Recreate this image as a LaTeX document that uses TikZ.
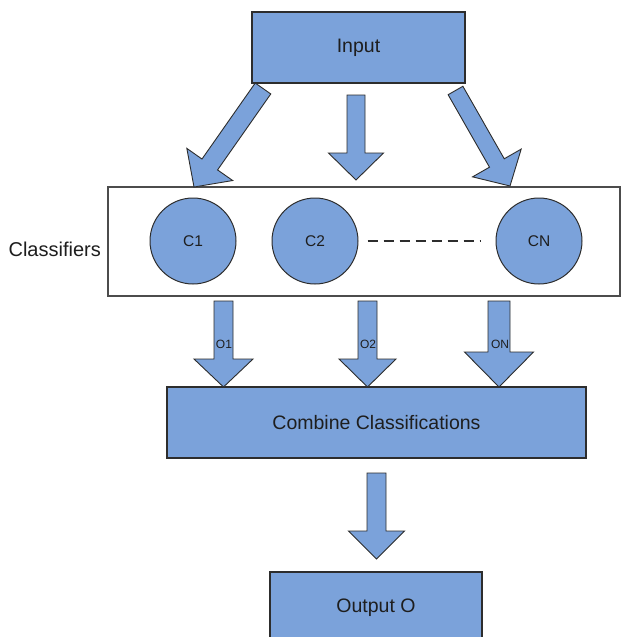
\documentclass[tikz,border=0pt]{standalone}
\usepackage{fontspec}
\setmainfont{Liberation Sans}
\usetikzlibrary{calc}
\definecolor{boxblue}{RGB}{123,162,218}
\definecolor{edge}{RGB}{45,45,45}
\definecolor{txt}{RGB}{30,30,30}
\tikzset{
  bluebox/.style={draw=edge, line width=1.1pt, fill=boxblue, rectangle, inner sep=0pt, text=txt,
    font=\fontsize{19.5}{23}\selectfont},
  clsnode/.style={draw=edge, line width=1pt, fill=boxblue, circle, minimum size=86pt, inner sep=0pt,
    text=txt, font=\fontsize{15.5}{18}\selectfont},
  barr/.style={draw=edge, line width=0.9pt, fill=boxblue, line join=miter},
  olabel/.style={text=txt, inner sep=0pt, font=\fontsize{12}{14}\selectfont},
}
\newcommand\blockarr[5]{%
  \coordinate (#1-h) at ($(#2)!#5!(#1)$);
  \draw[barr] ($(#1)!#3!90:(#2)$) -- ($(#1-h)!#3!-90:(#1)$) -- ($(#1-h)!#4!-90:(#1)$)
    -- (#2) -- ($(#1-h)!#4!90:(#1)$) -- ($(#1-h)!#3!90:(#1)$) -- ($(#1)!#3!-90:(#2)$) -- cycle;
}
\begin{document}
\begin{tikzpicture}[x=1pt,y=-1pt]
\useasboundingbox (0,0) rectangle (622,637);
\clip (0,0) rectangle (622,637);
\fill[white] (0,0) rectangle (622,637);

% boxes
\node[bluebox, minimum width=213pt, minimum height=71pt] (input) at (358.5,47.5) {Input};
\node[draw=edge!85, line width=1.4pt, fill=white, rectangle, minimum width=512pt, minimum height=109pt, inner sep=0pt] (cls) at (364,241.5) {};
\node[anchor=east, text=txt, inner sep=0pt, font=\fontsize{20}{23}\selectfont] (clslabel) at (101,249) {Classifiers};
\node[clsnode] (c1) at (193,241) {C1};
\node[clsnode] (c2) at (315,241) {C2};
\node[clsnode] (cn) at (539,241) {CN};
\draw[edge, line width=1.3pt, dash pattern=on 10pt off 6pt, shorten <=9pt, shorten >=15pt] (c2.east) -- (cn.west);
\node[bluebox, minimum width=419pt, minimum height=71pt] (combine) at (376.5,422.5) {Combine Classifications};
\node[bluebox, minimum width=212pt, minimum height=71pt] (output) at (376,607.5) {Output O};

% arrow endpoints
\coordinate (a1t) at (263,88.5);   \coordinate (a1b) at (194,187);
\coordinate (a2t) at (356,95);     \coordinate (a2b) at (356,180);
\coordinate (a3t) at (455.5,90.5); \coordinate (a3b) at (510,186);
\coordinate (o1t) at (223.5,301);  \coordinate (o1b) at (223.5,387);
\coordinate (o2t) at (367.5,301);  \coordinate (o2b) at (367.5,387);
\coordinate (ont) at (499,301);    \coordinate (onb) at (499,387);
\coordinate (bt) at (376.5,473);   \coordinate (bb) at (376.5,559);

\blockarr{a1t}{a1b}{9.5pt}{28pt}{27.5pt}
\blockarr{a2t}{a2b}{9pt}{27.5pt}{27pt}
\blockarr{a3t}{a3b}{8.5pt}{28pt}{26.5pt}
\blockarr{o1t}{o1b}{9.5pt}{29.5pt}{28pt}
\blockarr{o2t}{o2b}{9.5pt}{28.5pt}{28pt}
\blockarr{ont}{onb}{11pt}{34.5pt}{35pt}
\blockarr{bt}{bb}{9.5pt}{28pt}{28pt}

\node[olabel] (l1) at (224,344) {O1};
\node[olabel] (l2) at (368,344) {O2};
\node[olabel] (ln) at (500,344) {ON};
\end{tikzpicture}
\end{document}
